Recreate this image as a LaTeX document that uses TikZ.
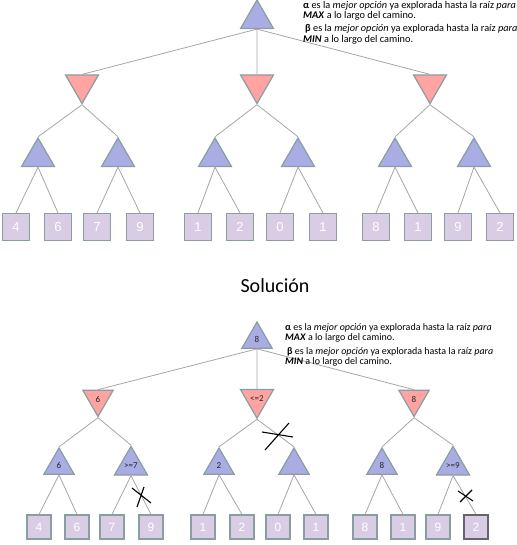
\documentclass[tikz,border=0pt]{standalone}
\usepackage{fontspec}
\setmainfont{Carlito}
\newfontfamily\leaffont{Liberation Sans}
\usetikzlibrary{shapes.geometric}

\definecolor{maxfill}{HTML}{A9ADE3}
\definecolor{minfill}{HTML}{FFA3A3}
\definecolor{leaffill}{HTML}{D9CDE5}
\definecolor{nodeborder}{HTML}{8A9DA0}
\definecolor{edgegray}{HTML}{A6A6A6}

\tikzset{
  maxnode/.style={regular polygon, regular polygon sides=3, minimum size=38pt, inner sep=0pt,
    fill=maxfill, draw=nodeborder, line width=1.2pt, text=black!85, font=\fontsize{9}{9}\selectfont},
  minnode/.style={maxnode, fill=minfill, shape border rotate=180},
  leaf/.style={rectangle, minimum size=27pt, inner sep=0pt, fill=leaffill, draw=nodeborder,
    line width=1.2pt, text=white, font=\leaffont\fontsize{13}{13}\selectfont},
  edge/.style={draw=edgegray, line width=0.8pt},
  cut/.style={line width=1.1pt, black},
  nota/.style={anchor=north west, align=left, inner sep=0pt, font=\fontsize{10.3}{10.5}\selectfont},
}

\begin{document}
\begin{tikzpicture}[x=1pt, y=-1pt]
\useasboundingbox (0,0) rectangle (516,545);

%arbol de la pregunta
\node[maxnode] (root) at (257,19) {};
\node[minnode] (mn1) at (82,84.5) {};
\node[minnode] (mn2) at (257,84.5) {};
\node[minnode] (mn3) at (430,84.5) {};
\node[maxnode] (mx1) at (38,157) {};
\node[maxnode] (mx2) at (118,157) {};
\node[maxnode] (mx3) at (215,157) {};
\node[maxnode] (mx4) at (298,157) {};
\node[maxnode] (mx5) at (395,157) {};
\node[maxnode] (mx6) at (474,157) {};
\node[leaf] (h1) at (16,227) {4};
\node[leaf] (h2) at (58,227) {6};
\node[leaf] (h3) at (97,227) {7};
\node[leaf] (h4) at (140,227) {9};
\node[leaf] (h5) at (198,227) {1};
\node[leaf] (h6) at (240,227) {2};
\node[leaf] (h7) at (280,227) {0};
\node[leaf] (h8) at (323,227) {1};
\node[leaf] (h9) at (376,227) {8};
\node[leaf] (h10) at (418,227) {1};
\node[leaf] (h11) at (458,227) {9};
\node[leaf] (h12) at (500,227) {2};

\draw[edge] (root.south) -- (mn1.north) (root.south) -- (mn2.north) (root.south) -- (mn3.north);
\draw[edge] (mn1.south) -- (mx1.north) (mn1.south) -- (mx2.north);
\draw[edge] (mn2.south) -- (mx3.north) (mn2.south) -- (mx4.north);
\draw[edge] (mn3.south) -- (mx5.north) (mn3.south) -- (mx6.north);
\draw[edge] (mx1.south) -- (h1.north) (mx1.south) -- (h2.north);
\draw[edge] (mx2.south) -- (h3.north) (mx2.south) -- (h4.north);
\draw[edge] (mx3.south) -- (h5.north) (mx3.south) -- (h6.north);
\draw[edge] (mx4.south) -- (h7.north) (mx4.south) -- (h8.north);
\draw[edge] (mx5.south) -- (h9.north) (mx5.south) -- (h10.north);
\draw[edge] (mx6.south) -- (h11.north) (mx6.south) -- (h12.north);

\node[nota] (notaA) at (303,1) {\textbf{α} es la \textit{mejor opción} ya explorada hasta la raíz \textit{para}\\
  \textbf{\textit{MAX}} a lo largo del camino.\\[2.5pt]
  \hspace{2pt}\textbf{β} es la \textit{mejor opción} ya explorada hasta la raíz \textit{para}\\
  \textbf{\textit{MIN}} a lo largo del camino.};

\node[font=\fontsize{20}{24}\selectfont] (titulo) at (275,286) {Solución};

%arbol de la solucion
\begin{scope}[maxnode/.append style={minimum size=35pt},
              leaf/.append style={minimum size=24pt, font=\leaffont\fontsize{12}{12}\selectfont}]
\node[maxnode] (sroot) at (257,339.5) {8};
\node[minnode] (smn1) at (98,399) {6};
\node[minnode] (smn2) at (257,399) {<=2};
\node[minnode] (smn3) at (414,399) {8};
\node[maxnode] (smx1) at (59,465.5) {6};
\node[maxnode] (smx2) at (131,465.5) {>=7};
\node[maxnode] (smx3) at (219,465.5) {2};
\node[maxnode] (smx4) at (294,465.5) {};
\node[maxnode] (smx5) at (382,465.5) {8};
\node[maxnode] (smx6) at (453,465.5) {>=9};
\node[leaf] (sh1) at (39,527) {4};
\node[leaf] (sh2) at (77,527) {6};
\node[leaf] (sh3) at (112,527) {7};
\node[leaf] (sh4) at (151,527) {9};
\node[leaf] (sh5) at (203,527) {1};
\node[leaf] (sh6) at (242,527) {2};
\node[leaf] (sh7) at (278,527) {0};
\node[leaf] (sh8) at (316,527) {1};
\node[leaf] (sh9) at (365,527) {8};
\node[leaf] (sh10) at (403,527) {1};
\node[leaf] (sh11) at (438,527) {9};
\node[leaf, draw=black!60, line width=1.6pt] (sh12) at (476,527) {2};
\end{scope}

\draw[edge] (sroot.south) -- (smn1.north) (sroot.south) -- (smn2.north) (sroot.south) -- (smn3.north);
\draw[edge] (smn1.south) -- (smx1.north) (smn1.south) -- (smx2.north);
\draw[edge] (smn2.south) -- (smx3.north) (smn2.south) -- (smx4.north);
\draw[edge] (smn3.south) -- (smx5.north) (smn3.south) -- (smx6.north);
\draw[edge] (smx1.south) -- (sh1.north) (smx1.south) -- (sh2.north);
\draw[edge] (smx2.south) -- (sh3.north) (smx2.south) -- (sh4.north);
\draw[edge] (smx3.south) -- (sh5.north) (smx3.south) -- (sh6.north);
\draw[edge] (smx4.south) -- (sh7.north) (smx4.south) -- (sh8.north);
\draw[edge] (smx5.south) -- (sh9.north) (smx5.south) -- (sh10.north);
\draw[edge] (smx6.south) -- (sh11.north) (smx6.south) -- (sh12.north);

\node[nota, font=\fontsize{10}{10.5}\selectfont] (notaB) at (285,323) {\textbf{α} es la \textit{mejor opción} ya explorada hasta la raíz \textit{para}\\
  \textbf{\textit{MAX}} a lo largo del camino.\\[3pt]
  \hspace{2pt}\textbf{β} es la \textit{mejor opción} ya explorada hasta la raíz \textit{para}\\
  \textbf{\textit{MIN}} a lo largo del camino.};

%podas
\draw[cut] (132,488) -- (151,503) (144,487) -- (137,507);
\draw[cut] (262,432) -- (293,437) (289,423) -- (265,450);
\draw[cut] (458,491) -- (473,501) (472,490) -- (460,502);
\end{tikzpicture}
\end{document}
